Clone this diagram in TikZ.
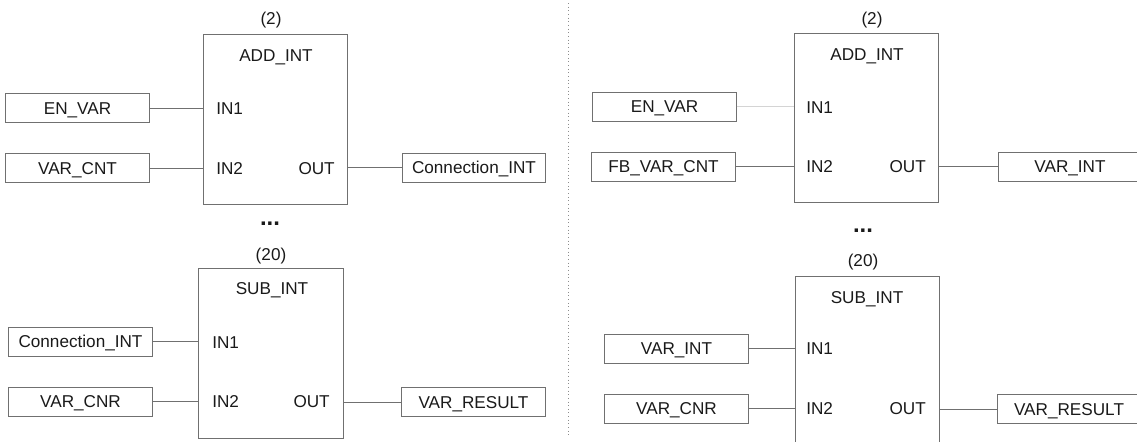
\documentclass[tikz,border=0pt]{standalone}
\usepackage{fontspec}
\setmainfont{Liberation Sans}
\usepackage{tikz}
\usetikzlibrary{positioning, calc}
\definecolor{edgegrey}{HTML}{707070}
\definecolor{faintgrey}{HTML}{D4D4D4}
\definecolor{inkgrey}{HTML}{1A1A1A}

\begin{document}
\begin{tikzpicture}[
    x=0.025cm, y=-0.025cm,
    txt/.style={
        inner sep=0pt, text height=8.7pt, text depth=0pt,
        text=inkgrey, font=\fontsize{12.2}{14}\selectfont
    },
    ellip/.style={
        inner sep=0pt, anchor=base, text=inkgrey,
        font=\fontsize{17}{19}\selectfont\bfseries
    },
    varbox/.style={
        txt, rectangle, draw=edgegrey, line width=0.7pt,
        minimum width=3.575cm, minimum height=0.725cm
    },
    fblock/.style={
        rectangle, draw=edgegrey, line width=0.7pt,
        minimum width=3.6cm, minimum height=4.225cm
    },
    wire/.style={edgegrey, line width=0.7pt}
]
    \clip (0,0) rectangle (1137,441);
    \fill[white] (0,0) rectangle (1137,441);

    %% Left: ADD_INT (2)
    \node[fblock] (addL) at (275.5,119.5) {};
    \node[txt] (addLtag) at (271,18) {(2)};
    \node[txt] (addLname) at (276,55) {ADD\_INT};
    \node[txt, anchor=west] (addLin1) at (216,108) {IN1};
    \node[txt, anchor=west] (addLin2) at (216,168) {IN2};
    \node[txt, anchor=east] (addLout) at (335,168) {OUT};
    \node[varbox] (envarL) at (77.5,108) {EN\_VAR};
    \node[varbox] (varcntL) at (77.5,168) {VAR\_CNT};
    \node[varbox] (connL) at (474,167.5) {Connection\_INT};

    \node[ellip] (dotsL) at (270,225) {...};

    %% Left: SUB_INT (20)
    \node[fblock] (subL) at (271,353.5) {};
    \node[txt] (subLtag) at (271,254) {(20)};
    \node[txt] (subLname) at (272,288) {SUB\_INT};
    \node[txt, anchor=west] (subLin1) at (212,342) {IN1};
    \node[txt, anchor=west] (subLin2) at (212,401) {IN2};
    \node[txt, anchor=east] (subLout) at (330,401) {OUT};
    \node[varbox] (connL2) at (80.5,341.5) {Connection\_INT};
    \node[varbox] (varcnrL) at (80.5,401.5) {VAR\_CNR};
    \node[varbox] (resL) at (473.5,402) {VAR\_RESULT};

    \draw[wire] (envarL) -- (envarL -| addL.west);
    \draw[wire] (varcntL) -- (varcntL -| addL.west);
    \draw[wire] (addL.east |- connL) -- (connL);
    \draw[wire] (connL2) -- (connL2 -| subL.west);
    \draw[wire] (varcnrL) -- (varcnrL -| subL.west);
    \draw[wire] (subL.east |- resL) -- (resL);

    %% divider
    \draw[edgegrey!80, dotted, line width=0.6pt] (568,3) -- (568,438);

    %% Right: ADD_INT (2)
    \node[fblock] (addR) at (866.5,118) {};
    \node[txt] (addRtag) at (872,18) {(2)};
    \node[txt] (addRname) at (867,54) {ADD\_INT};
    \node[txt, anchor=west] (addRin1) at (806,107) {IN1};
    \node[txt, anchor=west] (addRin2) at (806,166) {IN2};
    \node[txt, anchor=east] (addRout) at (926,166) {OUT};
    \node[varbox] (envarR) at (664.5,106.5) {EN\_VAR};
    \node[varbox] (fbvarR) at (663.5,166.5) {FB\_VAR\_CNT};
    \node[varbox] (varintR) at (1070,166.5) {VAR\_INT};

    \node[ellip] (dotsR) at (863,232) {...};

    %% Right: SUB_INT (20)
    \node[fblock, minimum height=4.6cm] (subR) at (867,369) {};
    \node[txt] (subRtag) at (863,260) {(20)};
    \node[txt] (subRname) at (867,297) {SUB\_INT};
    \node[txt, anchor=west] (subRin1) at (806,348) {IN1};
    \node[txt, anchor=west] (subRin2) at (806,408) {IN2};
    \node[txt, anchor=east] (subRout) at (926,408) {OUT};
    \node[varbox] (varintR2) at (676.5,348.5) {VAR\_INT};
    \node[varbox] (varcnrR) at (676.5,408.5) {VAR\_CNR};
    \node[varbox] (resR) at (1069,409) {VAR\_RESULT};

    \draw[wire, draw=faintgrey] (envarR) -- (envarR -| addR.west);
    \draw[wire] (fbvarR) -- (fbvarR -| addR.west);
    \draw[wire] (addR.east |- varintR) -- (varintR);
    \draw[wire] (varintR2) -- (varintR2 -| subR.west);
    \draw[wire] (varcnrR) -- (varcnrR -| subR.west);
    \draw[wire] (subR.east |- resR) -- (resR);
\end{tikzpicture}
\end{document}
